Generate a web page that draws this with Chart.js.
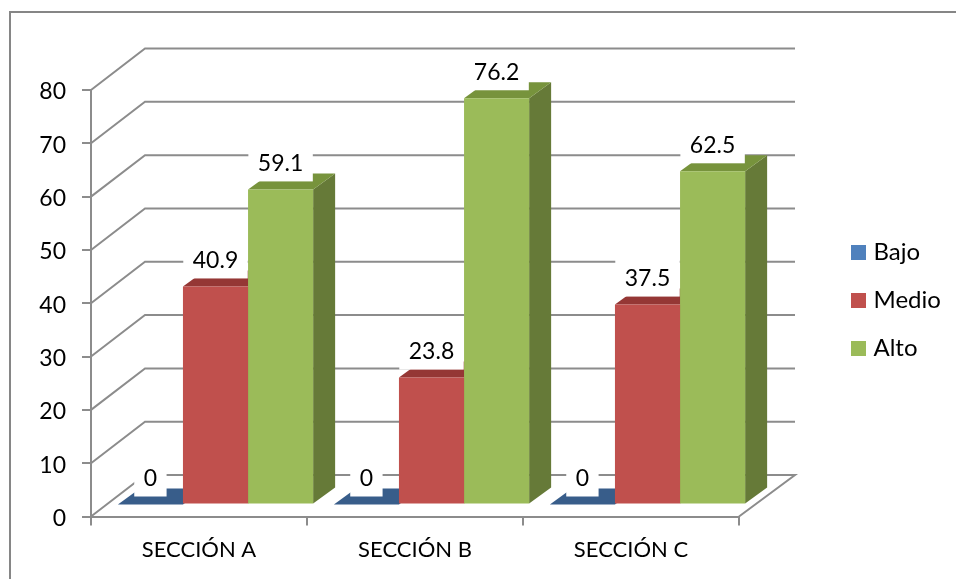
<!DOCTYPE html>
<html>
<head>
<meta charset="utf-8">
<title>Secciones</title>
<script src="https://cdn.jsdelivr.net/npm/chart.js@4/dist/chart.umd.min.js"></script>
<style>
  html, body { margin: 0; padding: 0; background: #fff; }
  canvas { display: block; }
</style>
</head>
<body>
<canvas id="myChart" width="956" height="579"></canvas>
<script>
const categories = ['SECCIÓN A', 'SECCIÓN B', 'SECCIÓN C'];
const bajo = [0, 0, 0];
const medio = [40.9, 23.8, 37.5];
const alto = [59.1, 76.2, 62.5];

const fontName = 'Lato';
const lineColor = '#8c8c8c';
const frontColors = ['#4f81bd', '#c0504d', '#9bbb59'];
// top and side faces of the fake 3d bars
const topColors = ['#385d8a', '#953735', '#77933c'];
const sideColors = ['#2f4f75', '#7f2e2c', '#667a38'];

function drawPoly(ctx, pts, color) {
  ctx.fillStyle = color;
  ctx.beginPath();
  ctx.moveTo(pts[0][0], pts[0][1]);
  for (let i = 1; i < pts.length; i++) ctx.lineTo(pts[i][0], pts[i][1]);
  ctx.closePath();
  ctx.fill();
}

const fake3d = {
  id: 'fake3d',
  afterLayout(chart) {
    // legend sits away from the plot, the back wall runs behind it
    chart.legend.left = 855.5 - chart.legend.options.labels.padding;
    chart.legend.top = 21;
    chart.legend.bottom = 580;
  },
  beforeDraw(chart) {
    const ctx = chart.ctx;
    ctx.save();
    ctx.strokeStyle = '#868686';
    ctx.lineWidth = 2;
    ctx.beginPath();
    ctx.moveTo(10, 579);
    ctx.lineTo(10, 12);
    ctx.lineTo(956, 12);
    ctx.stroke();
    ctx.restore();
  },
  beforeDatasetsDraw(chart) {
    const ctx = chart.ctx;
    const { left, right } = chart.chartArea;
    const yScale = chart.scales.y;
    ctx.save();
    ctx.strokeStyle = lineColor;
    ctx.lineWidth = 2;
    // side wall and back wall lines
    yScale.ticks.forEach(t => {
      const y = yScale.getPixelForValue(t.value);
      ctx.beginPath();
      ctx.moveTo(left, y);
      ctx.lineTo(left + 54, y - 41.5);
      ctx.lineTo(right + 56, y - 41.5);
      if (t.value === 0) ctx.lineTo(right, y);
      ctx.stroke();
    });
    ctx.restore();

    // side and top faces, the fronts come from the bar elements
    chart.data.datasets.forEach((ds, d) => {
      chart.getDatasetMeta(d).data.forEach(bar => {
        const x0 = bar.x - bar.width / 2 + 16.5;
        const x1 = bar.x + bar.width / 2 + 16.5;
        const yTop = bar.y - 12;
        const yBase = bar.base - 12;
        drawPoly(ctx, [[x1, yTop], [x1 + 22, yTop - 16], [x1 + 22, yBase - 16], [x1, yBase]], sideColors[d]);
        drawPoly(ctx, [[x0, yTop], [x0 + 22, yTop - 16], [x1 + 22, yTop - 16], [x1, yTop]], topColors[d]);
      });
    });

    ctx.save();
    ctx.translate(16.5, -12);
  },
  afterDatasetsDraw(chart) {
    const ctx = chart.ctx;
    ctx.restore();

    // value labels with their white box
    ctx.save();
    ctx.font = '23px ' + fontName;
    ctx.textAlign = 'center';
    ctx.textBaseline = 'middle';
    chart.data.datasets.forEach((ds, d) => {
      chart.getDatasetMeta(d).data.forEach((bar, i) => {
        const cx = bar.x + 16.5;
        const bottom = bar.y - 12 - 8;
        const text = String(ds.data[i]);
        const w = ctx.measureText(text).width + 19;
        ctx.fillStyle = '#fff';
        ctx.fillRect(cx - w / 2, bottom - 40, w, 40);
        ctx.fillStyle = '#000';
        ctx.fillText(text, cx, bottom - 18);
      });
    });
    ctx.restore();
  }
};

const barStyle = { categoryPercentage: 0.904, barPercentage: 1, borderWidth: 0 };

new Chart(document.getElementById('myChart'), {
  type: 'bar',
  data: {
    labels: categories,
    datasets: [
      { label: 'Bajo', data: bajo, backgroundColor: frontColors[0], ...barStyle },
      { label: 'Medio', data: medio, backgroundColor: frontColors[1], ...barStyle },
      { label: 'Alto', data: alto, backgroundColor: frontColors[2], ...barStyle }
    ]
  },
  options: {
    responsive: false,
    animation: false,
    layout: { padding: { top: 90 } },
    plugins: {
      tooltip: { enabled: false },
      legend: {
        position: 'right',
        labels: {
          // small box with a thick stroke, keeps the text close to the swatch
          boxWidth: 6,
          boxHeight: 6,
          padding: 24,
          color: '#000',
          font: { family: fontName, size: 24 },
          generateLabels(chart) {
            return chart.data.datasets.map((ds, i) => ({
              text: ds.label,
              fillStyle: frontColors[i],
              strokeStyle: frontColors[i],
              lineWidth: 9,
              datasetIndex: i
            }));
          }
        }
      }
    },
    scales: {
      x: {
        afterFit(scale) { scale.height = 62.5; },
        border: { color: lineColor, width: 2 },
        grid: { color: lineColor, lineWidth: 2, drawOnChartArea: false, tickLength: 9 },
        ticks: { color: '#000', padding: 11, maxRotation: 0, font: { family: fontName, size: 22 } }
      },
      y: {
        min: 0,
        max: 80,
        afterFit(scale) { scale.width = 91; },
        border: { color: lineColor, width: 2 },
        grid: { color: lineColor, lineWidth: 2, drawOnChartArea: false, tickLength: 9 },
        ticks: { stepSize: 10, color: '#000', padding: 16, labelOffset: 2, font: { family: fontName, size: 23 } }
      }
    }
  },
  plugins: [fake3d, {
    id: 'legendWidth',
    beforeInit(chart) {
      const fit = chart.legend.fit;
      chart.legend.fit = function() {
        fit.call(this);
        this.width = 217;
      };
    }
  }]
});
</script>
</body>
</html>
